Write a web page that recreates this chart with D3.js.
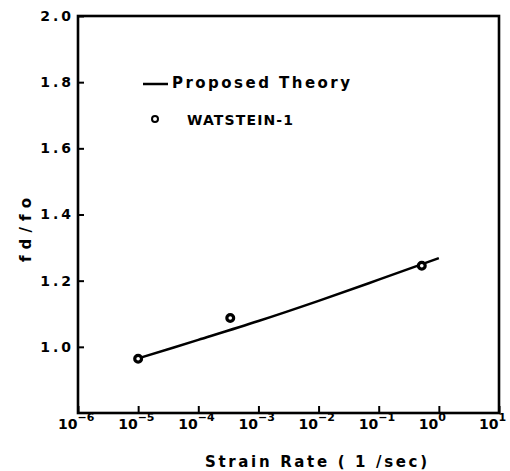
<!DOCTYPE html>
<html>
<head>
<meta charset="utf-8">
<script src="https://cdn.jsdelivr.net/npm/d3@7/dist/d3.min.js"></script>
<style>
  html, body { margin: 0; padding: 0; background: #fff; }
  svg { display: block; }
  text { font-family: "DejaVu Sans", sans-serif; font-weight: bold; fill: #000; }
</style>
</head>
<body>
<svg id="chart" width="510" height="471"></svg>
<script>
// ---- data ----
const theoryRate = [1e-5, 1e-4, 1e-3, 1e-2, 1e-1, 1e0];
const theoryRatio = [0.965, 1.021, 1.078, 1.139, 1.203, 1.268];
const testRate = [1e-5, 3.4e-4, 0.52];
const testRatio = [0.964, 1.087, 1.245];
const xTickExps = [-6, -5, -4, -3, -2, -1, 0, 1];
const yTicks = [1.0, 1.2, 1.4, 1.6, 1.8, 2.0];
const xTitle = "Strain Rate ( 1 /sec)";
const yTitle = "fd/fo";
const legendLine = "Proposed Theory";
const legendPoint = "WATSTEIN-1";

// ---- layout ----
const L = 78, R = 499, T = 16, B = 413;
const svg = d3.select("#chart");
const x = d3.scaleLog().domain([1e-6, 10]).range([L, R]);
const y = d3.scaleLinear().domain([0.8, 2.0]).range([B, T]);

// frame
svg.append("rect").attr("x", L).attr("y", T).attr("width", R - L).attr("height", B - T)
  .attr("fill", "none").attr("stroke", "#000").attr("stroke-width", 2.6);

// y axis
const yAxis = d3.axisLeft(y).tickValues(yTicks).tickSizeInner(-6).tickSizeOuter(0)
  .tickPadding(4).tickFormat(d3.format(".1f"));
const gy = svg.append("g").attr("transform", `translate(${L},0)`).call(yAxis);
gy.select(".domain").remove();
gy.selectAll(".tick line").attr("stroke", "#000").attr("stroke-width", 2);
gy.selectAll(".tick text").attr("font-size", 14).attr("letter-spacing", 3)
  .attr("font-family", "DejaVu Sans Mono").attr("font-weight", "bold");

// x axis
const xAxis = d3.axisBottom(x).tickValues(xTickExps.map(e => Math.pow(10, e)))
  .tickSizeInner(-7).tickSizeOuter(0).tickFormat("");
const gx = svg.append("g").attr("transform", `translate(0,${B})`).call(xAxis);
gx.select(".domain").remove();
gx.selectAll(".tick line").attr("stroke", "#000").attr("stroke-width", 2);
gx.selectAll(".tick").each(function(d, i) {
  const g = d3.select(this);
  g.append("text").attr("x", -1).attr("y", 16).attr("text-anchor", "end")
    .attr("font-size", 14).attr("font-family", "DejaVu Sans Mono").text("10");
  g.append("text").attr("x", -1).attr("y", 8).attr("text-anchor", "start")
    .attr("font-size", 11).attr("font-family", "DejaVu Sans Mono").text(String(xTickExps[i]).replace("-", "\u2212"));
});

// titles
svg.append("text").attr("x", 205).attr("y", 467)
  .attr("font-size", 15).attr("textLength", 222).attr("lengthAdjust", "spacing").text(xTitle);
svg.append("text").attr("transform", "translate(31,262) rotate(-90)")
  .attr("font-size", 15).attr("textLength", 64).attr("lengthAdjust", "spacing").text(yTitle);

// theory line
const line = d3.line().x((d, i) => x(theoryRate[i])).y(d => y(d)).curve(d3.curveCatmullRom);
svg.append("path").datum(theoryRatio).attr("d", line)
  .attr("fill", "none").attr("stroke", "#000").attr("stroke-width", 2.5);

// test points
svg.selectAll("circle.pt").data(testRatio).enter().append("circle").attr("class", "pt")
  .attr("cx", (d, i) => x(testRate[i])).attr("cy", d => y(d)).attr("r", 3.4)
  .attr("fill", "#fff").attr("stroke", "#000").attr("stroke-width", 3.2);

// legend
svg.append("line").attr("x1", 143).attr("x2", 168).attr("y1", 84).attr("y2", 84)
  .attr("stroke", "#000").attr("stroke-width", 2.5);
svg.append("text").attr("x", 172).attr("y", 88).attr("font-size", 15)
  .attr("textLength", 178).attr("lengthAdjust", "spacing").text(legendLine);
svg.append("circle").attr("cx", 155).attr("cy", 119).attr("r", 3)
  .attr("fill", "#fff").attr("stroke", "#000").attr("stroke-width", 2);
svg.append("text").attr("x", 187).attr("y", 125).attr("font-size", 14)
  .attr("textLength", 106).attr("lengthAdjust", "spacing").text(legendPoint);
</script>
</body>
</html>
